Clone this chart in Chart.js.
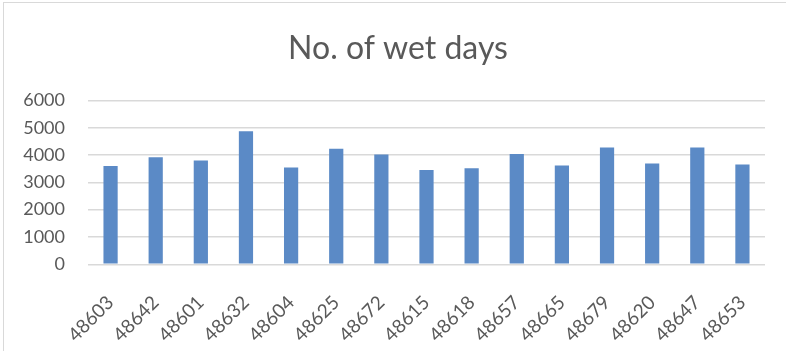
<!DOCTYPE html>
<html>
<head>
<meta charset="utf-8">
<script src="https://cdn.jsdelivr.net/npm/chart.js@4/dist/chart.umd.min.js"></script>
<style>
  html, body { margin: 0; padding: 0; background: #ffffff; }
  #wrap { width: 786px; height: 351px; position: relative; }
</style>
</head>
<body>
<div id="wrap"><canvas id="chart" width="786" height="351"></canvas></div>
<script>
// Station identifiers along the category axis
const stations = ['48603', '48642', '48601', '48632', '48604', '48625', '48672', '48615',
                  '48618', '48657', '48665', '48679', '48620', '48647', '48653'];

// Number of wet days recorded at each station
const wetDays = [3600, 3920, 3800, 4870, 3540, 4230, 4020, 3450,
                 3520, 4040, 3620, 4280, 3690, 4280, 3650];

// Value axis ticks
const yTicks = [0, 1000, 2000, 3000, 4000, 5000, 6000];

const textColor = '#595959';
const gridColor = '#d9d9d9';
const fontFamily = 'Lato, "Open Sans", sans-serif';

// White page with a thin frame around the chart
const framePlugin = {
  id: 'frame',
  beforeDraw(chart) {
    const ctx = chart.ctx;
    ctx.save();
    ctx.fillStyle = '#ffffff';
    ctx.fillRect(0, 0, chart.width, chart.height);
    ctx.strokeStyle = gridColor;
    ctx.lineWidth = 1;
    ctx.strokeRect(3.5, 2.5, chart.width + 20, chart.height + 20);
    ctx.restore();
  }
};

new Chart(document.getElementById('chart'), {
  type: 'bar',
  data: {
    labels: stations,
    datasets: [{
      label: 'No. of wet days',
      data: wetDays,
      backgroundColor: '#5b8ac6',
      borderWidth: 0,
      categoryPercentage: 1,
      barPercentage: 0.315
    }]
  },
  options: {
    responsive: false,
    animation: false,
    devicePixelRatio: 1,
    layout: { padding: { left: 10, right: 0, top: 0, bottom: 0 } },
    plugins: {
      legend: { display: false },
      tooltip: { enabled: false },
      title: {
        display: true,
        text: 'No. of wet days',
        color: textColor,
        font: { family: fontFamily, size: 32, weight: 'normal', lineHeight: 1.2 },
        padding: { top: 29, bottom: 33 }
      }
    },
    scales: {
      x: {
        grid: { display: false },
        border: { display: false },
        ticks: {
          color: textColor,
          font: { family: fontFamily, size: 19 },
          minRotation: 45,
          maxRotation: 45,
          padding: 19,
          autoSkip: false
        },
        afterFit(scale) { scale.height = 86.7; }
      },
      y: {
        min: 0,
        max: 6000,
        afterBuildTicks(scale) { scale.ticks = yTicks.map(v => ({ value: v })); },
        grid: { color: gridColor, lineWidth: 1.5, drawTicks: false },
        border: { display: false },
        ticks: {
          color: textColor,
          font: { family: fontFamily, size: 18 },
          padding: 23,
          callback: (v) => String(v)
        },
        afterFit(scale) { scale.width = 78; }
      },
      // empty margin on the right of the plot
      yRight: {
        position: 'right',
        min: 0,
        max: 6000,
        grid: { display: false },
        border: { display: false },
        ticks: { display: false },
        afterFit(scale) { scale.width = 21; }
      }
    }
  },
  plugins: [framePlugin]
});
</script>
</body>
</html>
